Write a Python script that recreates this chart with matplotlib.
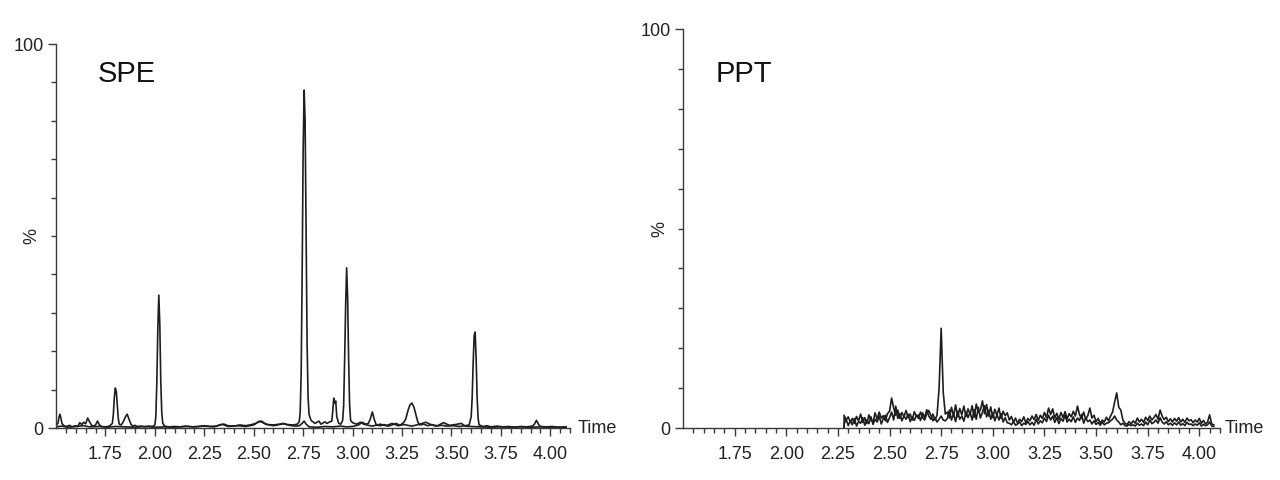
import matplotlib
matplotlib.use('Agg')
import matplotlib.pyplot as plt
import numpy as np
from matplotlib.ticker import MultipleLocator, FixedLocator

plt.rcParams['font.family'] = ['Liberation Sans', 'DejaVu Sans']

# SPE - main trace (time, %)
spe_a_t = [1.50, 1.51, 1.515, 1.52, 1.525, 1.53, 1.54, 1.55, 1.57, 1.58, 1.60, 1.61, 1.62, 1.63, 1.64,
           1.65, 1.66, 1.67, 1.68, 1.69, 1.70, 1.71, 1.72, 1.73, 1.75, 1.77, 1.785, 1.79, 1.795, 1.80,
           1.805, 1.81, 1.815, 1.82, 1.83, 1.84, 1.85, 1.86, 1.87, 1.88, 1.89, 1.90, 1.91, 1.93, 1.95,
           1.97, 1.99, 2.00, 2.005, 2.01, 2.015, 2.02, 2.025, 2.03, 2.035, 2.04, 2.05, 2.07, 2.10, 2.13,
           2.16, 2.19, 2.22, 2.25, 2.28, 2.31, 2.33, 2.35, 2.37, 2.40, 2.43, 2.46, 2.49, 2.51, 2.53,
           2.55, 2.57, 2.60, 2.63, 2.65, 2.67, 2.70, 2.72, 2.73, 2.735, 2.74, 2.745, 2.75, 2.755, 2.76,
           2.765, 2.77, 2.775, 2.78, 2.79, 2.80, 2.81, 2.83, 2.84, 2.86, 2.87, 2.88, 2.895, 2.90, 2.905,
           2.91, 2.915, 2.92, 2.93, 2.94, 2.95, 2.955, 2.96, 2.965, 2.97, 2.975, 2.98, 2.985, 2.99, 3.00,
           3.02, 3.04, 3.06, 3.08, 3.09, 3.10, 3.11, 3.12, 3.14, 3.16, 3.18, 3.20, 3.22, 3.24, 3.26,
           3.27, 3.28, 3.29, 3.30, 3.31, 3.32, 3.33, 3.34, 3.36, 3.38, 3.40, 3.42, 3.45, 3.48, 3.51,
           3.54, 3.57, 3.59, 3.60, 3.605, 3.61, 3.615, 3.62, 3.625, 3.63, 3.635, 3.64, 3.66, 3.68, 3.70,
           3.73, 3.76, 3.79, 3.82, 3.85, 3.88, 3.91, 3.92, 3.93, 3.94, 3.95, 3.98, 4.01, 4.04, 4.08]
spe_a_y = [0.6, 1.2, 2.8, 3.6, 2.6, 1.2, 0.6, 0.4, 0.7, 0.3, 0.6, 0.4, 1.4, 0.9, 1.5,
           1.1, 2.6, 1.6, 0.7, 0.5, 0.8, 1.8, 0.8, 0.4, 0.3, 0.5, 1.2, 3.5, 8.0, 10.4,
           9.5, 6.0, 2.5, 1.0, 0.8, 1.6, 2.8, 3.6, 2.2, 0.9, 0.5, 0.7, 0.4, 0.5, 0.3,
           0.5, 0.4, 0.8, 3.0, 12.0, 26.0, 34.6, 27.0, 12.0, 4.0, 1.2, 0.5, 0.3, 0.4, 0.3,
           0.5, 0.3, 0.4, 0.6, 0.4, 0.5, 0.8, 1.0, 0.6, 0.5, 0.8, 0.6, 0.9, 1.2, 1.8,
           1.3, 0.9, 0.8, 1.0, 1.2, 0.9, 0.8, 1.0, 1.6, 4.0, 14.0, 40.0, 72.0, 88.0, 80.0,
           52.0, 22.0, 8.0, 3.5, 2.0, 1.6, 1.2, 1.8, 1.0, 1.6, 1.2, 1.5, 1.8, 4.5, 7.8,
           6.5, 7.0, 3.0, 1.2, 1.0, 2.0, 6.0, 18.0, 32.0, 41.7, 34.0, 18.0, 6.0, 2.0, 1.4,
           1.0, 1.5, 0.9, 1.2, 2.4, 4.2, 2.2, 0.8, 0.6, 0.9, 0.5, 0.8, 1.2, 0.7, 1.5,
           2.5, 4.5, 6.0, 6.5, 5.5, 3.5, 1.6, 0.8, 1.0, 0.6, 0.9, 0.5, 0.7, 0.5, 0.6,
           0.4, 0.6, 0.8, 3.0, 8.0, 17.0, 24.0, 25.0, 18.0, 8.0, 2.5, 0.8, 0.4, 0.6, 0.3,
           0.5, 0.3, 0.4, 0.2, 0.4, 0.3, 0.5, 1.0, 2.0, 1.0, 0.4, 0.3, 0.4, 0.2, 0.3]

# SPE - second trace
spe_b_t = [1.50, 1.53, 1.56, 1.60, 1.64, 1.67, 1.72, 1.76, 1.80, 1.85, 1.90, 1.95, 2.00, 2.05, 2.10,
           2.15, 2.20, 2.25, 2.30, 2.34, 2.37, 2.42, 2.46, 2.50, 2.52, 2.54, 2.56, 2.60, 2.63, 2.65,
           2.68, 2.71, 2.73, 2.745, 2.755, 2.765, 2.78, 2.82, 2.86, 2.90, 2.94, 2.97, 3.00, 3.03, 3.05,
           3.07, 3.10, 3.14, 3.17, 3.20, 3.23, 3.26, 3.30, 3.34, 3.37, 3.40, 3.43, 3.46, 3.49, 3.52,
           3.55, 3.57, 3.60, 3.64, 3.70, 3.75, 3.80, 3.85, 3.90, 3.95, 4.00, 4.08]
spe_b_y = [0.3, 0.5, 0.2, 0.4, 0.6, 0.3, 0.4, 0.2, 0.4, 0.3, 0.2, 0.4, 0.2, 0.3, 0.2,
           0.4, 0.3, 0.5, 0.3, 1.0, 0.4, 0.6, 0.4, 0.8, 1.5, 1.8, 1.0, 0.6, 0.9, 1.1,
           0.7, 0.5, 0.6, 1.2, 1.8, 1.0, 0.3, 0.2, 0.4, 0.3, 0.5, 0.3, 0.4, 0.8, 1.5,
           0.8, 0.5, 1.0, 0.6, 1.2, 0.6, 0.9, 0.5, 1.0, 1.5, 0.8, 0.6, 1.4, 0.7, 0.9,
           1.2, 0.5, 0.4, 0.3, 0.2, 0.3, 0.2, 0.3, 0.2, 0.3, 0.2, 0.2]

# PPT - sampled every 0.01 min from 2.28 min
ppt_start = 2.28
ppt_step = 0.01
ppt_1 = [3.2, 2.0, 2.8, 1.5, 2.4, 1.2, 2.9, 1.8, 3.5, 1.4,
         2.6, 1.1, 3.3, 2.0, 1.5, 3.8, 2.2, 4.0, 2.5, 3.1,
         1.8, 3.6, 4.2, 7.5, 5.0, 3.2, 4.5, 2.4, 3.9, 2.8,
         4.4, 2.6, 3.5, 2.0, 4.1, 2.9, 3.3, 1.9, 3.8, 2.5,
         4.6, 3.0, 2.2, 3.5, 2.0, 3.2, 10.0, 25.0, 9.0, 3.5,
         4.0, 2.5, 5.2, 3.0, 5.8, 2.8, 4.9, 3.3, 5.5, 2.9,
         4.8, 3.4, 5.6, 2.7, 6.0, 3.9, 4.5, 6.8, 3.6, 5.9,
         3.0, 5.3, 2.6, 4.7, 3.2, 5.0, 2.4, 4.2, 3.1, 3.8,
         2.0, 2.9, 1.4, 2.5, 1.2, 2.2, 1.6, 2.8, 1.3, 2.4,
         1.8, 3.0, 2.1, 3.4, 1.9, 3.2, 2.4, 3.9, 2.6, 5.0,
         3.4, 4.8, 2.5, 3.7, 2.2, 3.9, 2.6, 4.1, 2.3, 3.6,
         2.8, 4.2, 3.0, 5.5, 3.3, 2.4, 4.0, 2.2, 3.1, 5.0,
         2.5, 3.2, 1.6, 2.4, 1.2, 2.0, 1.5, 2.7, 1.8, 3.0,
         4.0, 6.5, 8.8, 5.2, 4.5, 2.0, 1.2, 0.9, 1.6, 1.0,
         1.8, 1.2, 2.5, 1.5, 2.2, 1.4, 2.7, 1.9, 3.0, 2.0,
         2.6, 3.4, 2.2, 4.5, 3.0, 2.1, 2.7, 1.6, 2.3, 1.5,
         2.4, 1.7, 2.6, 1.5, 2.2, 1.4, 2.5, 1.8, 2.1, 1.3,
         2.0, 1.5, 2.4, 1.2, 1.9, 1.0, 1.5, 3.3, 1.0, 0.8]
ppt_2 = [1.0, 2.2, 0.6, 1.8, 0.8, 2.4, 0.5, 1.6, 1.2, 2.6,
         0.7, 2.0, 1.1, 2.8, 0.9, 2.2, 1.5, 3.0, 1.0, 2.4,
         3.2, 1.4, 2.6, 4.0, 2.0, 5.5, 2.4, 3.6, 1.8, 3.0,
         2.2, 3.5, 1.6, 2.8, 1.9, 3.2, 2.4, 4.0, 2.6, 2.0,
         3.6, 4.4, 3.2, 1.8, 2.6, 1.5, 2.2, 3.0, 2.0, 1.8,
         2.4, 4.5, 2.0, 3.6, 1.6, 4.2, 2.2, 3.0, 1.7, 4.0,
         2.6, 3.9, 2.0, 4.6, 2.2, 5.2, 2.5, 4.0, 5.6, 2.8,
         4.4, 2.2, 3.8, 1.8, 3.4, 2.0, 3.6, 1.5, 2.6, 1.3,
         1.2, 0.8, 1.6, 0.7, 1.0, 1.5, 0.6, 1.2, 0.9, 1.6,
         0.8, 1.4, 0.7, 2.2, 1.0, 1.8, 1.3, 2.5, 1.6, 3.2,
         2.0, 3.0, 1.4, 2.6, 1.1, 2.4, 1.7, 3.2, 1.5, 2.2,
         1.6, 2.8, 1.4, 2.5, 1.9, 3.4, 1.2, 2.6, 1.6, 2.0,
         1.0, 1.8, 0.9, 1.4, 0.7, 1.5, 0.8, 1.2, 1.3, 1.8,
         2.2, 3.0, 2.0, 1.5, 0.8, 1.2, 0.6, 0.5, 0.9, 0.6,
         0.8, 0.5, 1.2, 0.7, 1.0, 0.6, 1.5, 0.8, 2.0, 1.1,
         1.4, 2.0, 1.2, 2.6, 1.5, 1.0, 1.6, 0.8, 1.2, 0.7,
         1.3, 0.8, 1.5, 0.7, 1.1, 0.6, 1.4, 0.9, 1.0, 0.6,
         1.0, 0.7, 1.3, 0.5, 0.9, 0.6, 0.8, 1.5, 0.5, 0.4]

ppt_t = [ppt_start] + [round(ppt_start + i * ppt_step, 2) for i in range(len(ppt_1))]
ppt_1 = [0.0] + ppt_1
ppt_2 = [0.0] + ppt_2

LINE = '#1e1e1e'
AXC = '#3a3a3a'
FS = 13


def style_axis(ax, name, name_xy, label_x, time_x):
    ax.set_xlim(1.5, 4.10)
    ax.set_ylim(0, 100)
    for s in ['top', 'right']:
        ax.spines[s].set_visible(False)
    for s in ['left', 'bottom']:
        ax.spines[s].set_color(AXC)
        ax.spines[s].set_linewidth(1.0)
    ax.xaxis.set_major_locator(FixedLocator(np.arange(1.75, 4.01, 0.25)))
    ax.xaxis.set_minor_locator(FixedLocator(np.arange(1.55, 4.11, 0.05)))
    ax.xaxis.set_major_formatter(plt.FuncFormatter(lambda v, p: f'{v:.2f}'))
    ax.yaxis.set_major_locator(FixedLocator([0, 100]))
    ax.yaxis.set_minor_locator(MultipleLocator(10))
    ax.tick_params(axis='both', which='major', direction='out', length=6, width=1,
                   color=AXC, labelsize=FS, labelcolor='#222222')
    ax.tick_params(axis='both', which='minor', direction='out', length=3.5, width=1, color=AXC)
    ax.tick_params(axis='x', which='major', pad=7)
    ax.tick_params(axis='y', which='major', pad=3)
    ax.set_ylabel('%', fontsize=FS, color='#222222')
    ax.yaxis.set_label_coords(label_x, 0.5)
    ax.text(name_xy[0], name_xy[1], name, transform=ax.transAxes, fontsize=21,
            ha='left', va='center', color='#111111')
    ax.text(time_x, 0, 'Time', transform=ax.transAxes, fontsize=FS,
            ha='left', va='center', color='#222222', clip_on=False)


fig = plt.figure(figsize=(12.8, 4.8), dpi=100)
fig.patch.set_facecolor('white')

ax1 = fig.add_axes([0.04375, 0.1083, 0.4016, 0.8])
ax1.plot(spe_b_t, spe_b_y, color=LINE, linewidth=1.2)
ax1.plot(spe_a_t, spe_a_y, color=LINE, linewidth=1.2)
style_axis(ax1, 'SPE', (0.082, 0.922), -0.031, 1.014)

ax2 = fig.add_axes([0.5336, 0.1083, 0.4195, 0.831])
ax2.plot(ppt_t, ppt_2, color=LINE, linewidth=1.2)
ax2.plot(ppt_t, ppt_1, color=LINE, linewidth=1.2)
style_axis(ax2, 'PPT', (0.061, 0.888), -0.028, 1.009)

plt.savefig('out.png', dpi=100, facecolor=fig.get_facecolor())
plt.close()
